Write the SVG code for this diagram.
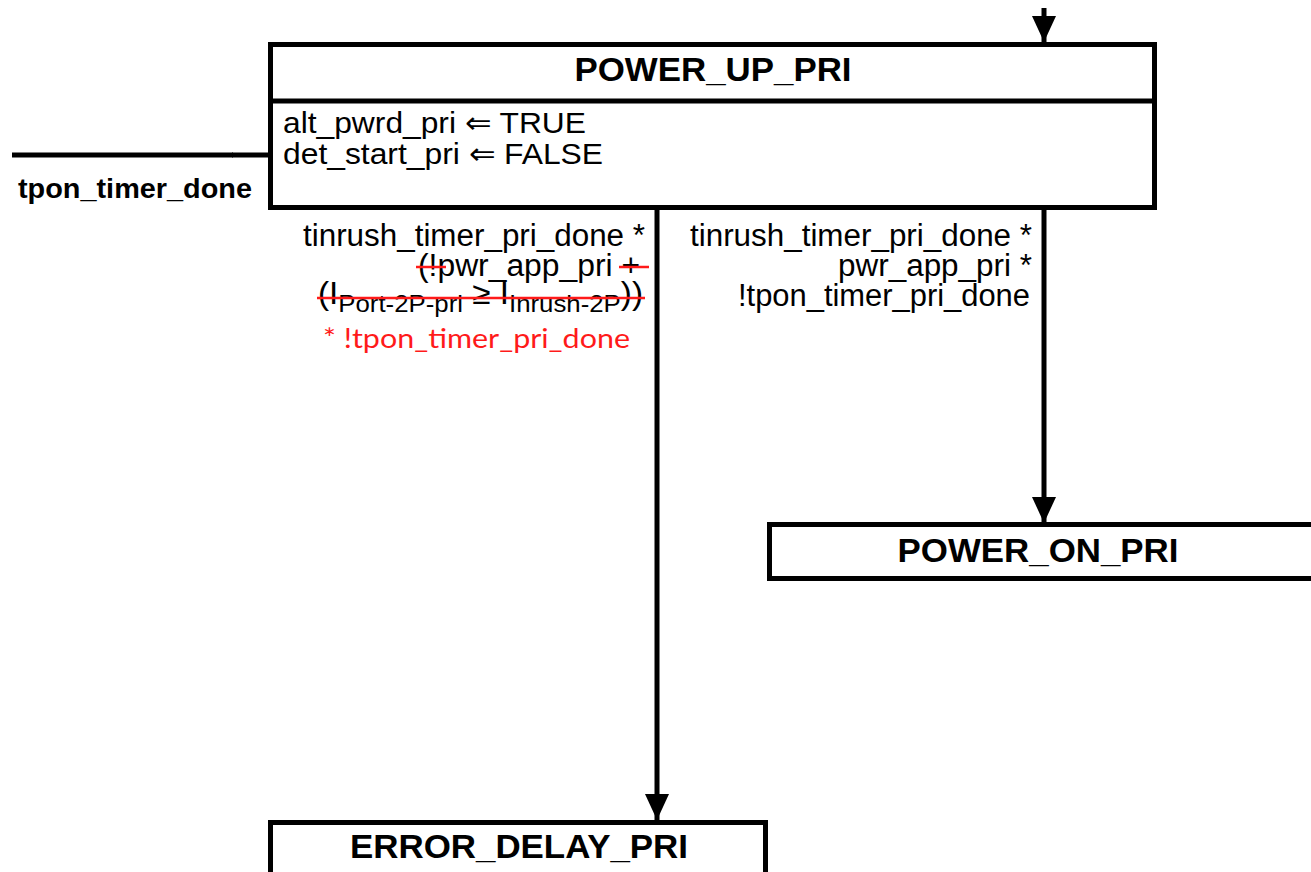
<svg xmlns="http://www.w3.org/2000/svg" width="1311" height="872" viewBox="0 0 1311 872">
  <style>
    .box { fill: #ffffff; stroke: #000000; stroke-width: 5; }
    .wire { fill: none; stroke: #000000; stroke-width: 5; }
    .title { font-family: "Liberation Sans", Arial, sans-serif; font-weight: bold; font-size: 33px; fill: #000000; text-anchor: middle; }
    .body { font-family: "Liberation Sans", Arial, sans-serif; font-size: 30px; fill: #000000; }
    .cond { font-family: "Liberation Sans", Arial, sans-serif; font-size: 31px; fill: #000000; text-anchor: end; }
    .sub { font-size: 24px; }
    .edit { font-family: Lato, "Open Sans", sans-serif; font-size: 27px; fill: #ff1a1a; text-anchor: end; }
    .strike { stroke: #ff1a1a; stroke-width: 2.5; }
    .event { font-family: "Liberation Sans", Arial, sans-serif; font-weight: bold; font-size: 28px; fill: #000000; }
  </style>
  <defs>
    <marker id="arrow" viewBox="0 0 26 24" refX="26" refY="12" markerWidth="26" markerHeight="24" markerUnits="userSpaceOnUse" orient="auto">
      <path d="M0,0 L26,12 L0,24 Z" fill="#000000"/>
    </marker>
  </defs>

  <rect width="1311" height="872" fill="#ffffff"/>

  <!-- connectors -->
  <g id="connectors">
    <line class="wire" x1="1044" y1="8" x2="1044" y2="42" marker-end="url(#arrow)"/>
    <line class="wire" x1="12" y1="155" x2="233" y2="155" stroke-width="6"/>
    <line class="wire" x1="232" y1="155" x2="269" y2="155" stroke-width="4"/>
    <line class="wire" x1="657" y1="210" x2="657" y2="820" marker-end="url(#arrow)"/>
    <line class="wire" x1="1044" y1="210" x2="1044" y2="523" marker-end="url(#arrow)"/>
  </g>

  <!-- entry event -->
  <g id="label-tpon-timer-done">
    <text class="event" x="18" y="198" textLength="234" lengthAdjust="spacingAndGlyphs">tpon_timer_done</text>
  </g>

  <!-- POWER_UP_PRI state -->
  <g id="power-up-pri">
    <rect class="box" x="270.5" y="44.5" width="884" height="163"/>
    <line class="wire" x1="270" y1="101" x2="1155" y2="101"/>
    <text class="title" x="713" y="81" textLength="277" lengthAdjust="spacingAndGlyphs">POWER_UP_PRI</text>
    <text class="body" x="283" y="133" textLength="303" lengthAdjust="spacingAndGlyphs">alt_pwrd_pri ⇐ TRUE</text>
    <text class="body" x="283" y="164" textLength="320" lengthAdjust="spacingAndGlyphs">det_start_pri ⇐ FALSE</text>
  </g>

  <!-- condition to ERROR_DELAY_PRI -->
  <g id="cond-error-delay">
    <text class="cond" x="645" y="246" textLength="342" lengthAdjust="spacingAndGlyphs">tinrush_timer_pri_done *</text>
    <text class="cond" x="640" y="276" textLength="222" lengthAdjust="spacingAndGlyphs">(!pwr_app_pri +</text>
    <line class="strike" x1="416" y1="267" x2="446" y2="267"/>
    <line class="strike" x1="619" y1="267" x2="649" y2="267"/>
    <text class="cond" x="643" y="304" textLength="325" lengthAdjust="spacingAndGlyphs">(I<tspan class="sub" dy="8">Port-2P-pri</tspan><tspan dy="-8"> ≥ I</tspan><tspan class="sub" dy="8">Inrush-2P</tspan><tspan dy="-8">))</tspan></text>
    <line class="strike" x1="317" y1="298" x2="645" y2="298"/>
    <text class="edit" x="630" y="348" textLength="307" lengthAdjust="spacingAndGlyphs">* !tpon_timer_pri_done</text>
  </g>

  <!-- condition to POWER_ON_PRI -->
  <g id="cond-power-on">
    <text class="cond" x="1032" y="246" textLength="342" lengthAdjust="spacingAndGlyphs">tinrush_timer_pri_done *</text>
    <text class="cond" x="1032" y="276" textLength="194" lengthAdjust="spacingAndGlyphs">pwr_app_pri *</text>
    <text class="cond" x="1030" y="306" textLength="292" lengthAdjust="spacingAndGlyphs">!tpon_timer_pri_done</text>
  </g>

  <!-- POWER_ON_PRI state -->
  <g id="power-on-pri">
    <rect class="box" x="769.5" y="524.5" width="600" height="54"/>
    <text class="title" x="1038" y="562" textLength="281" lengthAdjust="spacingAndGlyphs">POWER_ON_PRI</text>
  </g>

  <!-- ERROR_DELAY_PRI state -->
  <g id="error-delay-pri">
    <rect class="box" x="270.5" y="822.5" width="495" height="80"/>
    <text class="title" x="519" y="858" textLength="338" lengthAdjust="spacingAndGlyphs">ERROR_DELAY_PRI</text>
  </g>
</svg>
